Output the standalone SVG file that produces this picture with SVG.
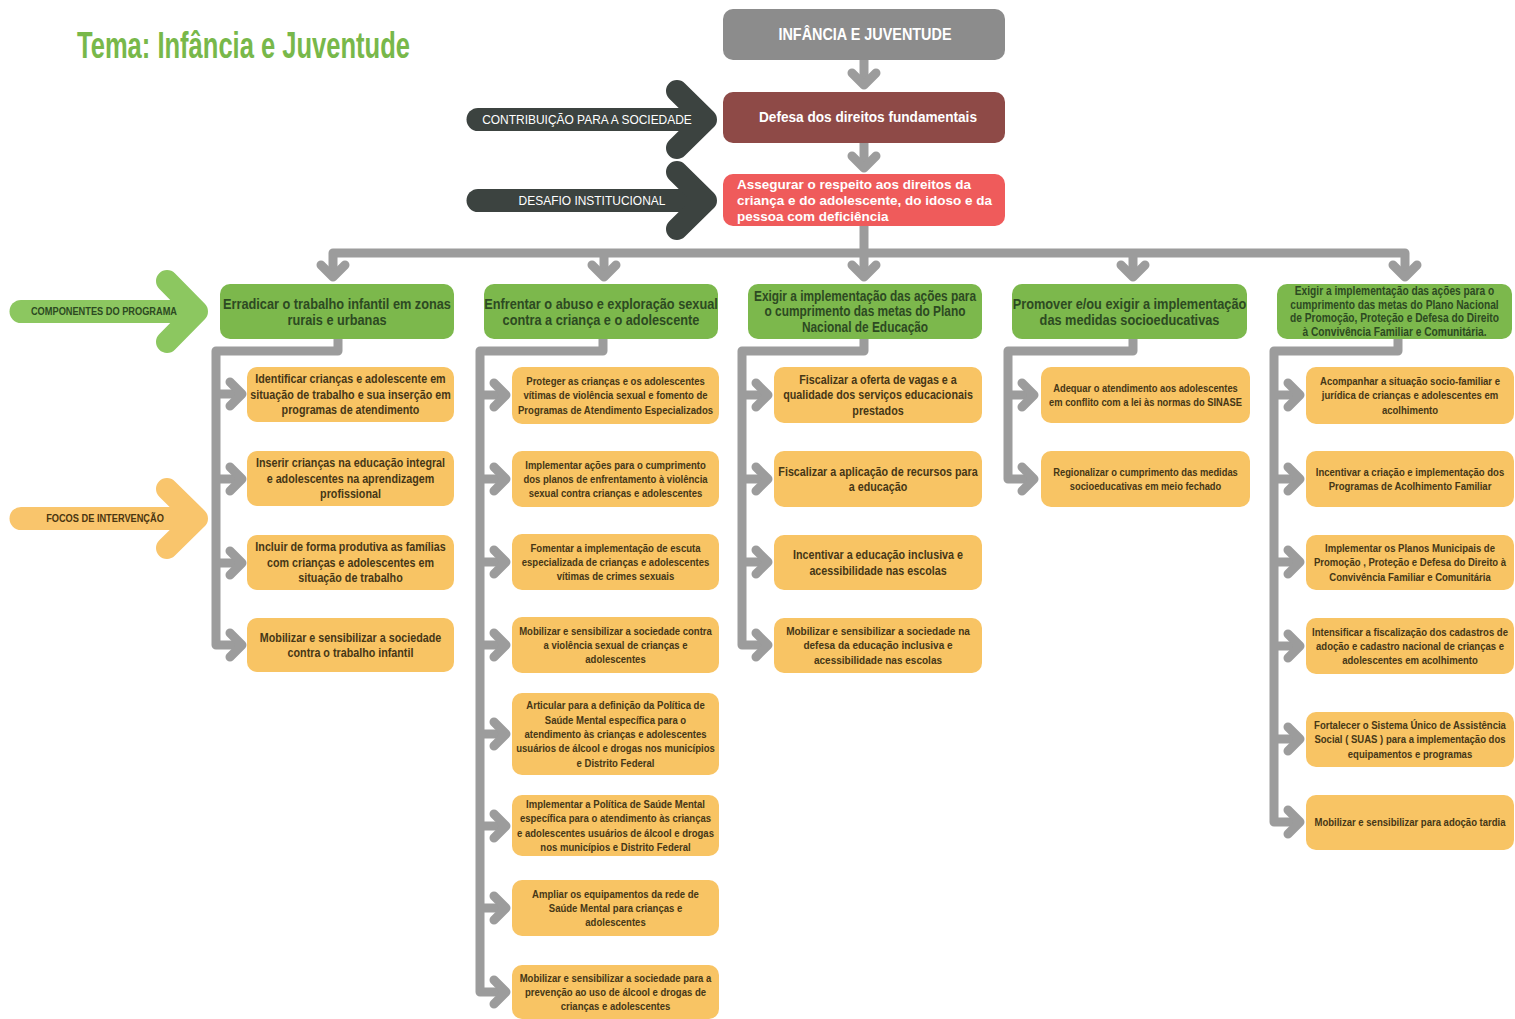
<svg xmlns="http://www.w3.org/2000/svg" width="1515" height="1019" viewBox="0 0 1515 1019">
<defs>
<style>
text{font-family:"Liberation Sans",Arial,sans-serif;}
.c{text-anchor:middle;}
.b{font-weight:bold;}
.gbox{fill:#7cb84c;}
.obox{fill:#f8c464;}
.gt{fill:#2d4a22;font-weight:bold;text-anchor:middle;}
.ot{fill:#463716;font-weight:bold;text-anchor:middle;}
.conn{fill:none;stroke:#9c9c9c;stroke-width:9;stroke-linejoin:round;}
.chev{fill:none;stroke:#9c9c9c;stroke-width:9;stroke-linejoin:round;stroke-linecap:round;}
.bigd{fill:none;stroke:#3c4340;stroke-linecap:round;stroke-linejoin:round;}
.bigg{fill:none;stroke:#8cc760;stroke-linecap:round;stroke-linejoin:round;}
.bigo{fill:none;stroke:#f9c56c;stroke-linecap:round;stroke-linejoin:round;}
</style>
</defs>
<rect width="1515" height="1019" fill="#ffffff"/>

<text x="77" y="58" font-size="37" font-weight="bold" fill="#78b84a" textLength="333" lengthAdjust="spacingAndGlyphs">Tema: Infância e Juventude</text>

<g id="connectors">
  <path class="conn" d="M864,60 V84"/>
  <polyline class="chev" points="852,73 864,85 876,73"/>
  <path class="conn" d="M864,143 V167"/>
  <polyline class="chev" points="852,156 864,168 876,156"/>
  <path class="conn" d="M864,226 V253"/>
  <path class="conn" d="M333,277 V253 H1405 V277"/>
  <path class="conn" d="M604,253 V277 M864,253 V277 M1133,253 V277"/>
  <polyline class="chev" points="321,265 333,277 345,265"/>
  <polyline class="chev" points="592,265 604,277 616,265"/>
  <polyline class="chev" points="852,265 864,277 876,265"/>
  <polyline class="chev" points="1121,265 1133,277 1145,265"/>
  <polyline class="chev" points="1393,265 1405,277 1417,265"/>

  <path class="conn" d="M338,338 V351 H216 V645 H241 M216,394 H241 M216,479 H241 M216,563 H241"/>
  <polyline class="chev" points="230,382 242,394 230,406"/>
  <polyline class="chev" points="230,467 242,479 230,491"/>
  <polyline class="chev" points="230,551 242,563 230,575"/>
  <polyline class="chev" points="230,633 242,645 230,657"/>

  <path class="conn" d="M603,338 V351 H480 V992 H505 M480,395 H505 M480,479 H505 M480,562 H505 M480,645 H505 M480,734 H505 M480,826 H505 M480,908 H505"/>
  <polyline class="chev" points="494,383 506,395 494,407"/>
  <polyline class="chev" points="494,467 506,479 494,491"/>
  <polyline class="chev" points="494,550 506,562 494,574"/>
  <polyline class="chev" points="494,633 506,645 494,657"/>
  <polyline class="chev" points="494,722 506,734 494,746"/>
  <polyline class="chev" points="494,814 506,826 494,838"/>
  <polyline class="chev" points="494,896 506,908 494,920"/>
  <polyline class="chev" points="494,980 506,992 494,1004"/>

  <path class="conn" d="M864,338 V351 H742 V645 H767 M742,395 H767 M742,479 H767 M742,562 H767"/>
  <polyline class="chev" points="756,383 768,395 756,407"/>
  <polyline class="chev" points="756,467 768,479 756,491"/>
  <polyline class="chev" points="756,550 768,562 756,574"/>
  <polyline class="chev" points="756,633 768,645 756,657"/>

  <path class="conn" d="M1133,338 V351 H1008 V479 H1034 M1008,395 H1034"/>
  <polyline class="chev" points="1022,383 1034,395 1022,407"/>
  <polyline class="chev" points="1022,467 1034,479 1022,491"/>

  <path class="conn" d="M1398,338 V351 H1274 V822 H1299 M1274,395 H1299 M1274,479 H1299 M1274,562 H1299 M1274,646 H1299 M1274,739 H1299"/>
  <polyline class="chev" points="1288,383 1300,395 1288,407"/>
  <polyline class="chev" points="1288,467 1300,479 1288,491"/>
  <polyline class="chev" points="1288,550 1300,562 1288,574"/>
  <polyline class="chev" points="1288,634 1300,646 1288,658"/>
  <polyline class="chev" points="1288,727 1300,739 1288,751"/>
  <polyline class="chev" points="1288,810 1300,822 1288,834"/>
</g>

<g id="arrow-contribuicao">
  <path class="bigd" stroke-width="23" d="M478,119.5 H700"/>
  <polyline class="bigd" stroke-width="22" points="677,91 706,119.5 677,148"/>
  <g transform="translate(587 0) scale(0.92 1)"><text class="c" x="0" y="124" font-size="13" fill="#ffffff">CONTRIBUIÇÃO PARA A SOCIEDADE</text></g>
</g>
<g id="arrow-desafio">
  <path class="bigd" stroke-width="23" d="M478,200.5 H700"/>
  <polyline class="bigd" stroke-width="22" points="677,172 706,200.5 677,229"/>
  <g transform="translate(592 0) scale(0.92 1)"><text class="c" x="0" y="205" font-size="13" fill="#ffffff">DESAFIO INSTITUCIONAL</text></g>
</g>
<g id="arrow-componentes">
  <path class="bigg" stroke-width="23" d="M21,311.5 H190"/>
  <polyline class="bigg" stroke-width="22" points="167,281 197,311.5 167,342"/>
  <g transform="translate(104 0) scale(0.88 1)"><text class="c b" x="0" y="315.5" font-size="10.5" fill="#2d4a22">COMPONENTES DO PROGRAMA</text></g>
</g>
<g id="arrow-focos">
  <path class="bigo" stroke-width="23" d="M21,518.5 H190"/>
  <polyline class="bigo" stroke-width="22" points="167,489 197,518.5 167,548"/>
  <g transform="translate(105 0) scale(0.88 1)"><text class="c b" x="0" y="522.5" font-size="10.5" fill="#4a3510">FOCOS DE INTERVENÇÃO</text></g>
</g>

<g id="n-infancia">
  <rect x="723" y="9" width="282" height="51" rx="10" fill="#8c8c8c"/>
  <g transform="translate(865 0) scale(0.9 1)"><text class="c b" x="0" y="40" font-size="16" fill="#ffffff">INFÂNCIA E JUVENTUDE</text></g>
</g>
<g id="n-defesa">
  <rect x="723" y="92" width="282" height="51" rx="10" fill="#8e4a47"/>
  <g transform="translate(868 0) scale(0.88 1)"><text class="c b" x="0" y="122.5" font-size="15.5" fill="#ffffff">Defesa dos direitos fundamentais</text></g>
</g>
<g id="n-assegurar">
  <rect x="723" y="174" width="282" height="52" rx="10" fill="#ef5b5b"/>
  <text class="b" x="737" y="188.7" font-size="13.5" fill="#ffffff">Assegurar o respeito aos direitos da</text>
  <text class="b" x="737" y="204.7" font-size="13.5" fill="#ffffff">criança e do adolescente, do idoso e da</text>
  <text class="b" x="737" y="220.7" font-size="13.5" fill="#ffffff">pessoa com deficiência</text>
</g>

<g id="g1">
  <rect class="gbox" x="220" y="284" width="234" height="55" rx="10"/>
  <g transform="translate(337 0) scale(0.85 1)" font-size="15">
    <text class="gt" x="0" y="308.75">Erradicar o trabalho infantil em zonas</text>
    <text class="gt" x="0" y="324.75">rurais e urbanas</text>
  </g>
</g>
<g id="g2">
  <rect class="gbox" x="484" y="284" width="234" height="55" rx="10"/>
  <g transform="translate(601 0) scale(0.85 1)" font-size="15">
    <text class="gt" x="0" y="308.75">Enfrentar o abuso e exploração sexual</text>
    <text class="gt" x="0" y="324.75">contra a criança e o adolescente</text>
  </g>
</g>
<g id="g3">
  <rect class="gbox" x="748" y="284" width="234" height="55" rx="10"/>
  <g transform="translate(865 0) scale(0.85 1)" font-size="14">
    <text class="gt" x="0" y="300.9">Exigir a implementação das ações para</text>
    <text class="gt" x="0" y="316.4">o cumprimento das metas do Plano</text>
    <text class="gt" x="0" y="331.9">Nacional de Educação</text>
  </g>
</g>
<g id="g4">
  <rect class="gbox" x="1012" y="284" width="235" height="55" rx="10"/>
  <g transform="translate(1129.5 0) scale(0.85 1)" font-size="15">
    <text class="gt" x="0" y="308.75">Promover e/ou exigir a implementação</text>
    <text class="gt" x="0" y="324.75">das medidas socioeducativas</text>
  </g>
</g>
<g id="g5">
  <rect class="gbox" x="1277" y="284" width="235" height="55" rx="10"/>
  <g transform="translate(1394.5 0) scale(0.85 1)" font-size="12">
    <text class="gt" x="0" y="295.4">Exigir a implementação das ações para o</text>
    <text class="gt" x="0" y="308.9">cumprimento das metas do Plano Nacional</text>
    <text class="gt" x="0" y="322.4">de Promoção, Proteção e Defesa do Direito</text>
    <text class="gt" x="0" y="335.9">à Convivência Familiar e Comunitária.</text>
  </g>
</g>

<g id="c1b1">
  <rect class="obox" x="247" y="367" width="207" height="55" rx="10"/>
  <g transform="translate(350.5 0) scale(0.86 1)" font-size="12.5">
    <text class="ot" x="0" y="383.4">Identificar crianças e adolescente em</text>
    <text class="ot" x="0" y="398.9">situação de trabalho e sua inserção em</text>
    <text class="ot" x="0" y="414.4">programas de atendimento</text>
  </g>
</g>
<g id="c1b2">
  <rect class="obox" x="247" y="451" width="207" height="55" rx="10"/>
  <g transform="translate(350.5 0) scale(0.86 1)" font-size="12.5">
    <text class="ot" x="0" y="467.4">Inserir crianças na educação integral</text>
    <text class="ot" x="0" y="482.9">e adolescentes na aprendizagem</text>
    <text class="ot" x="0" y="498.4">profissional</text>
  </g>
</g>
<g id="c1b3">
  <rect class="obox" x="247" y="535" width="207" height="55" rx="10"/>
  <g transform="translate(350.5 0) scale(0.86 1)" font-size="12.5">
    <text class="ot" x="0" y="551.4">Incluir de forma produtiva as famílias</text>
    <text class="ot" x="0" y="566.9">com crianças e adolescentes em</text>
    <text class="ot" x="0" y="582.4">situação de trabalho</text>
  </g>
</g>
<g id="c1b4">
  <rect class="obox" x="247" y="618" width="207" height="54" rx="10"/>
  <g transform="translate(350.5 0) scale(0.86 1)" font-size="12.5">
    <text class="ot" x="0" y="641.6">Mobilizar e sensibilizar a sociedade</text>
    <text class="ot" x="0" y="657.1">contra o trabalho infantil</text>
  </g>
</g>

<g id="c2b1">
  <rect class="obox" x="512" y="367" width="207" height="57" rx="10"/>
  <g transform="translate(615.5 0) scale(0.83 1)" font-size="11.5">
    <text class="ot" x="0" y="385.2">Proteger as crianças e os adolescentes</text>
    <text class="ot" x="0" y="399.5">vítimas de violência sexual e fomento de</text>
    <text class="ot" x="0" y="413.8">Programas de Atendimento Especializados</text>
  </g>
</g>
<g id="c2b2">
  <rect class="obox" x="512" y="451" width="207" height="56" rx="10"/>
  <g transform="translate(615.5 0) scale(0.83 1)" font-size="11.5">
    <text class="ot" x="0" y="468.7">Implementar ações para o cumprimento</text>
    <text class="ot" x="0" y="483">dos planos de enfrentamento à violência</text>
    <text class="ot" x="0" y="497.3">sexual contra crianças e adolescentes</text>
  </g>
</g>
<g id="c2b3">
  <rect class="obox" x="512" y="534" width="207" height="56" rx="10"/>
  <g transform="translate(615.5 0) scale(0.83 1)" font-size="11.5">
    <text class="ot" x="0" y="551.7">Fomentar a implementação de escuta</text>
    <text class="ot" x="0" y="566">especializada de crianças e adolescentes</text>
    <text class="ot" x="0" y="580.3">vítimas de crimes sexuais</text>
  </g>
</g>
<g id="c2b4">
  <rect class="obox" x="512" y="617" width="207" height="56" rx="10"/>
  <g transform="translate(615.5 0) scale(0.83 1)" font-size="11.5">
    <text class="ot" x="0" y="634.7">Mobilizar e sensibilizar a sociedade contra</text>
    <text class="ot" x="0" y="649">a violência sexual de crianças e</text>
    <text class="ot" x="0" y="663.3">adolescentes</text>
  </g>
</g>
<g id="c2b5">
  <rect class="obox" x="512" y="693" width="207" height="82" rx="10"/>
  <g transform="translate(615.5 0) scale(0.83 1)" font-size="11.5">
    <text class="ot" x="0" y="709.4">Articular para a definição da Política de</text>
    <text class="ot" x="0" y="723.7">Saúde Mental específica para o</text>
    <text class="ot" x="0" y="738">atendimento às crianças e adolescentes</text>
    <text class="ot" x="0" y="752.3">usuários de álcool e drogas nos municípios</text>
    <text class="ot" x="0" y="766.6">e Distrito Federal</text>
  </g>
</g>
<g id="c2b6">
  <rect class="obox" x="512" y="795" width="207" height="61" rx="10"/>
  <g transform="translate(615.5 0) scale(0.83 1)" font-size="11.5">
    <text class="ot" x="0" y="808">Implementar a Política de Saúde Mental</text>
    <text class="ot" x="0" y="822.3">específica para o atendimento às crianças</text>
    <text class="ot" x="0" y="836.6">e adolescentes usuários de álcool e drogas</text>
    <text class="ot" x="0" y="850.9">nos municípios e Distrito Federal</text>
  </g>
</g>
<g id="c2b7">
  <rect class="obox" x="512" y="880" width="207" height="56" rx="10"/>
  <g transform="translate(615.5 0) scale(0.83 1)" font-size="11.5">
    <text class="ot" x="0" y="897.7">Ampliar os equipamentos da rede de</text>
    <text class="ot" x="0" y="912">Saúde Mental para crianças e</text>
    <text class="ot" x="0" y="926.3">adolescentes</text>
  </g>
</g>
<g id="c2b8">
  <rect class="obox" x="512" y="965" width="207" height="54" rx="10"/>
  <g transform="translate(615.5 0) scale(0.83 1)" font-size="11.5">
    <text class="ot" x="0" y="981.7">Mobilizar e sensibilizar a sociedade para a</text>
    <text class="ot" x="0" y="996">prevenção ao uso de álcool e drogas de</text>
    <text class="ot" x="0" y="1010.3">crianças e adolescentes</text>
  </g>
</g>

<g id="c3b1">
  <rect class="obox" x="774" y="367" width="208" height="56" rx="10"/>
  <g transform="translate(878 0) scale(0.86 1)" font-size="12.5">
    <text class="ot" x="0" y="383.9">Fiscalizar a oferta de vagas e a</text>
    <text class="ot" x="0" y="399.4">qualidade dos serviços educacionais</text>
    <text class="ot" x="0" y="414.9">prestados</text>
  </g>
</g>
<g id="c3b2">
  <rect class="obox" x="774" y="451" width="208" height="56" rx="10"/>
  <g transform="translate(878 0) scale(0.86 1)" font-size="12.5">
    <text class="ot" x="0" y="475.65">Fiscalizar a aplicação de recursos para</text>
    <text class="ot" x="0" y="491.15">a educação</text>
  </g>
</g>
<g id="c3b3">
  <rect class="obox" x="774" y="535" width="208" height="55" rx="10"/>
  <g transform="translate(878 0) scale(0.86 1)" font-size="12.5">
    <text class="ot" x="0" y="559.15">Incentivar a educação inclusiva e</text>
    <text class="ot" x="0" y="574.65">acessibilidade nas escolas</text>
  </g>
</g>
<g id="c3b4">
  <rect class="obox" x="774" y="618" width="208" height="55" rx="10"/>
  <g transform="translate(878 0) scale(0.85 1)" font-size="11.8">
    <text class="ot" x="0" y="635.2">Mobilizar e sensibilizar a sociedade na</text>
    <text class="ot" x="0" y="649.5">defesa da educação inclusiva e</text>
    <text class="ot" x="0" y="663.8">acessibilidade nas escolas</text>
  </g>
</g>

<g id="c4b1">
  <rect class="obox" x="1041" y="367" width="209" height="56" rx="10"/>
  <g transform="translate(1145.5 0) scale(0.85 1)" font-size="11">
    <text class="ot" x="0" y="391.85">Adequar o atendimento aos adolescentes</text>
    <text class="ot" x="0" y="405.85">em conflito com a lei às normas do SINASE</text>
  </g>
</g>
<g id="c4b2">
  <rect class="obox" x="1041" y="451" width="209" height="56" rx="10"/>
  <g transform="translate(1145.5 0) scale(0.85 1)" font-size="11">
    <text class="ot" x="0" y="475.85">Regionalizar o cumprimento das medidas</text>
    <text class="ot" x="0" y="489.85">socioeducativas em meio fechado</text>
  </g>
</g>

<g id="c5b1">
  <rect class="obox" x="1306" y="367" width="208" height="57" rx="10"/>
  <g transform="translate(1410 0) scale(0.83 1)" font-size="11.5">
    <text class="ot" x="0" y="385.2">Acompanhar a situação socio-familiar e</text>
    <text class="ot" x="0" y="399.5">jurídica de crianças e adolescentes em</text>
    <text class="ot" x="0" y="413.8">acolhimento</text>
  </g>
</g>
<g id="c5b2">
  <rect class="obox" x="1306" y="451" width="208" height="56" rx="10"/>
  <g transform="translate(1410 0) scale(0.83 1)" font-size="11.5">
    <text class="ot" x="0" y="475.85">Incentivar a criação e implementação dos</text>
    <text class="ot" x="0" y="490.15">Programas de Acolhimento Familiar</text>
  </g>
</g>
<g id="c5b3">
  <rect class="obox" x="1306" y="535" width="208" height="55" rx="10"/>
  <g transform="translate(1410 0) scale(0.83 1)" font-size="11.5">
    <text class="ot" x="0" y="552.2">Implementar os Planos Municipais de</text>
    <text class="ot" x="0" y="566.5">Promoção , Proteção e Defesa do Direito à</text>
    <text class="ot" x="0" y="580.8">Convivência Familiar e Comunitária</text>
  </g>
</g>
<g id="c5b4">
  <rect class="obox" x="1306" y="618" width="208" height="56" rx="10"/>
  <g transform="translate(1410 0) scale(0.83 1)" font-size="11.5">
    <text class="ot" x="0" y="635.7">Intensificar a fiscalização dos cadastros de</text>
    <text class="ot" x="0" y="650">adoção e cadastro nacional de crianças e</text>
    <text class="ot" x="0" y="664.3">adolescentes em acolhimento</text>
  </g>
</g>
<g id="c5b5">
  <rect class="obox" x="1306" y="712" width="208" height="55" rx="10"/>
  <g transform="translate(1410 0) scale(0.83 1)" font-size="11.5">
    <text class="ot" x="0" y="729.2">Fortalecer o Sistema Único de Assistência</text>
    <text class="ot" x="0" y="743.5">Social ( SUAS ) para a implementação dos</text>
    <text class="ot" x="0" y="757.8">equipamentos e programas</text>
  </g>
</g>
<g id="c5b6">
  <rect class="obox" x="1306" y="795" width="208" height="55" rx="10"/>
  <g transform="translate(1410 0) scale(0.83 1)" font-size="11.5">
    <text class="ot" x="0" y="826.5">Mobilizar e sensibilizar para adoção tardia</text>
  </g>
</g>
</svg>
